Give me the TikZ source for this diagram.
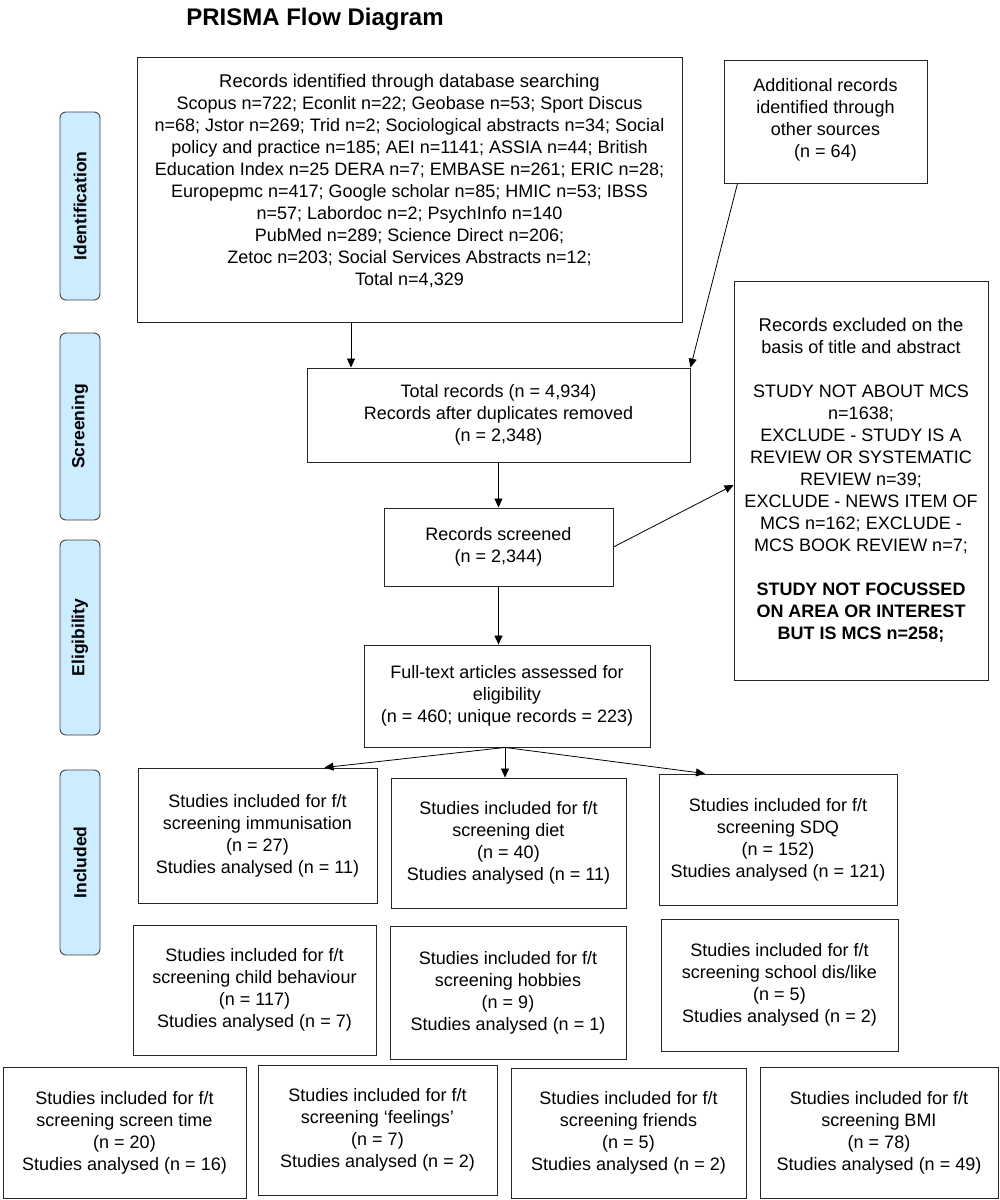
\documentclass[tikz,border=0pt]{standalone}
\usepackage{fontspec}
\setmainfont{Liberation Sans}
\usetikzlibrary{arrows.meta}
\definecolor{phasecol}{RGB}{204,236,255}
\newcommand\bx[6]{\node[box, minimum width={(#4-#2)*1pt}, minimum height={(#5-#3)*1pt}] (#1) at ({(#2+#4)/2},{(#3+#5)/2}) {#6};}
\newcommand\phs[4]{\node[phase, minimum width={(#4-#3)*1pt}, minimum height=40pt, rotate=90] (#1) at (80,{(#3+#4)/2}) {#2};}
\begin{document}
\begin{tikzpicture}[x=1pt,y=-1pt,
 box/.style={draw=black!85, line width=0.9pt, align=center, inner sep=0pt, font=\fontsize{18}{22}\selectfont},
 phase/.style={draw=black!75, fill=phasecol, rounded corners=6pt, line width=0.9pt, inner sep=0pt, font=\fontsize{17.5}{20}\selectfont\bfseries},
 arr/.style={line width=0.8pt, -{Triangle[length=9pt,width=8pt]}}]
\useasboundingbox (0,0) rectangle (1000,1200);
\node[font=\fontsize{24}{26}\selectfont\bfseries] (title) at (315,19) {PRISMA Flow Diagram};
\phs{pid}{Identification}{112}{300}
\phs{psc}{Screening}{333}{520}
\phs{pel}{Eligibility}{540}{735}
\phs{pin}{Included}{770}{955}
\bx{top}{137}{57}{682}{322}{\fontsize{18.4}{22}\selectfont Records identified through database searching\\
Scopus n=722; Econlit n=22; Geobase n=53; Sport Discus\\
n=68; Jstor n=269; Trid n=2; Sociological abstracts n=34; Social\\
policy and practice n=185; AEI n=1141; ASSIA n=44; British\\
Education Index n=25 DERA n=7; EMBASE n=261; ERIC n=28;\\
Europepmc n=417; Google scholar n=85; HMIC n=53; IBSS\\
n=57; Labordoc n=2; PsychInfo n=140\\
PubMed n=289; Science Direct n=206;\\
Zetoc n=203; Social Services Abstracts n=12;\\
Total n=4,329\\[-2pt]}
\bx{add}{724}{60}{927}{183}{Additional records\\identified through\\other sources\\(n = 64)\\[-14pt]}
\bx{total}{307}{368}{690}{462}{Total records (n = 4,934)\\Records after duplicates removed\\(n = 2,348)}
\bx{screen}{384}{508}{613}{586}{Records screened\\(n = 2,344)}
\bx{excl}{734}{281}{988}{680}{\fontsize{18.5}{22}\selectfont Records excluded on the\\basis of title and abstract\\[22pt]
STUDY NOT ABOUT MCS\\n=1638;\\EXCLUDE - STUDY IS A\\REVIEW OR SYSTEMATIC\\REVIEW n=39;\\EXCLUDE - NEWS ITEM OF\\MCS n=162; EXCLUDE -\\MCS BOOK REVIEW n=7;\\[22pt]
\textbf{STUDY NOT FOCUSSED}\\\textbf{ON AREA OR INTEREST}\\\textbf{BUT IS MCS n=258;}}
\bx{ft}{364}{645}{650}{747}{Full-text articles assessed for\\eligibility\\(n = 460; unique records = 223)}
\bx{imm}{138}{768}{377}{903}{Studies included for f/t\\screening immunisation\\(n = 27)\\Studies analysed (n = 11)}
\bx{diet}{391}{778}{626}{908}{Studies included for f/t\\screening diet\\(n = 40)\\Studies analysed (n = 11)}
\bx{sdq}{659}{774}{897}{905}{Studies included for f/t\\screening SDQ\\(n = 152)\\Studies analysed (n = 121)}
\bx{child}{133}{925}{376}{1055}{Studies included for f/t\\screening child behaviour\\(n = 117)\\Studies analysed (n = 7)}
\bx{hob}{390}{926}{626}{1059}{Studies included for f/t\\screening hobbies\\(n = 9)\\Studies analysed (n = 1)}
\bx{school}{661}{919}{898}{1051}{Studies included for f/t\\screening school dis/like\\(n = 5)\\Studies analysed (n = 2)}
\bx{scr}{3}{1067}{246}{1198}{Studies included for f/t\\screening screen time\\(n = 20)\\Studies analysed (n = 16)}
\bx{feel}{258}{1065}{497}{1195}{Studies included for f/t\\screening ‘feelings’\\(n = 7)\\Studies analysed (n = 2)}
\bx{fri}{511}{1068}{746}{1198}{Studies included for f/t\\screening friends\\(n = 5)\\Studies analysed (n = 2)}
\bx{bmi}{760}{1067}{998}{1198}{Studies included for f/t\\screening BMI\\(n = 78)\\Studies analysed (n = 49)}
\draw[arr] ([xshift=-58.5pt]top.south) -- ([xshift=-58.5pt]top.south |- total.north);
\draw[arr] ([xshift=-88pt]add.south) -- (total.north east);
\draw[arr] (total.south) -- (screen.north);
\draw[arr] (screen.east) -- ([yshift=-4.5pt]excl.west);
\draw[arr] (screen.south) -- (screen.south |- ft.north);
\draw[arr] ([xshift=-2pt]ft.south) -- ([xshift=67pt]imm.north);
\draw[arr] ([xshift=-2pt]ft.south) -- ([xshift=-2pt]ft.south |- diet.north);
\draw[arr] ([xshift=-2pt]ft.south) -- ([xshift=-73pt]sdq.north);
\end{tikzpicture}
\end{document}
